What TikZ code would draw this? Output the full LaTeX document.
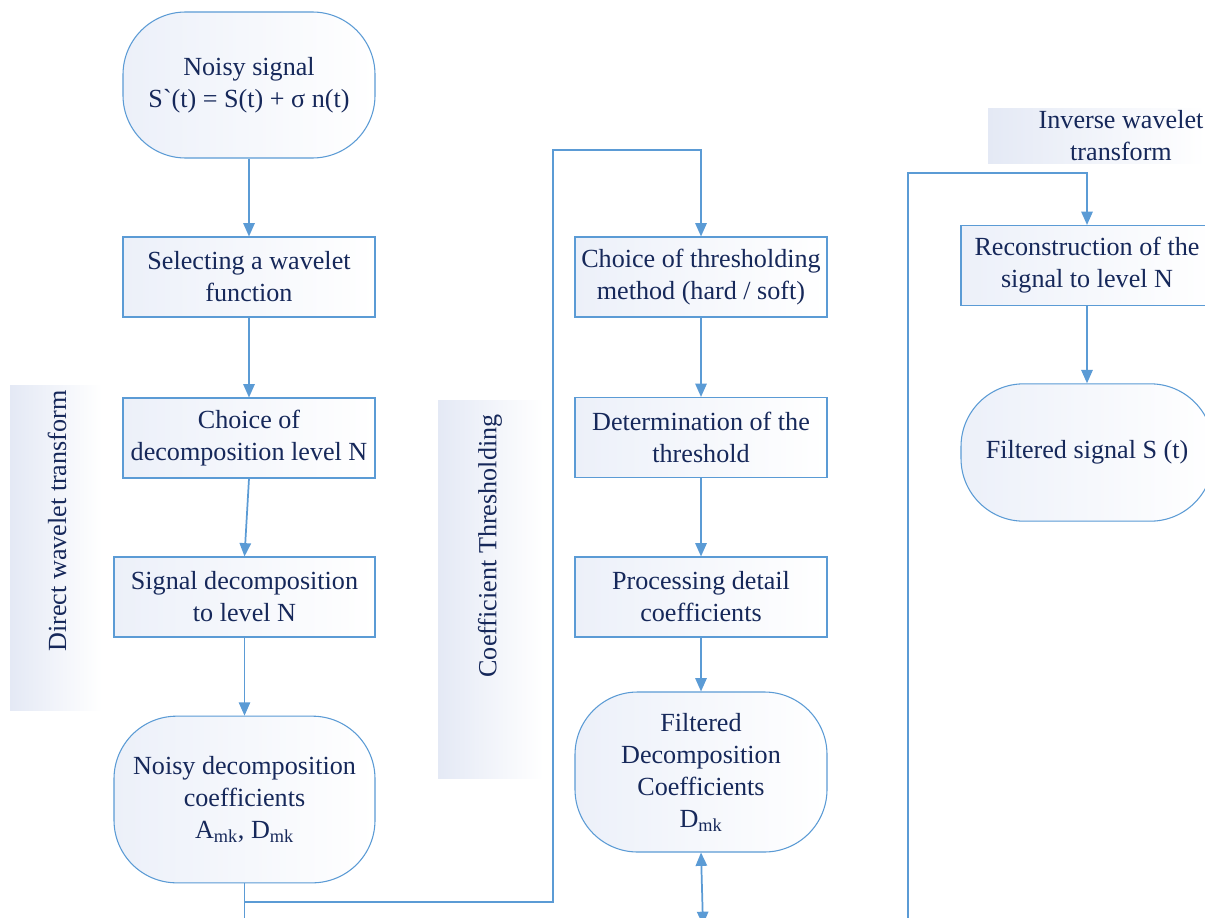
\documentclass[tikz,border=0pt]{standalone}
\usepackage{fontspec}
\setmainfont{Liberation Serif}
\usetikzlibrary{arrows.meta}
\definecolor{lnc}{RGB}{91,155,213}
\definecolor{txc}{RGB}{22,40,90}
\definecolor{nfl}{RGB}{236,240,249}
\definecolor{lbl}{RGB}{228,233,245}
\begin{document}
\begin{tikzpicture}[x=0.75pt,y=-0.75pt,
  every node/.style={font=\fontsize{19.6}{24}\selectfont, text=txc, align=center, inner sep=0pt},
  procbox/.style={draw=lnc, line width=0.8pt, left color=nfl, right color=white,
    minimum width=189pt, minimum height=60pt},
  termbox/.style={procbox, rounded corners=47pt},
  lblbox/.style={left color=lbl, right color=white, draw=none},
  conn/.style={draw=lnc, line width=1.3pt},
  arr/.style={conn, -{Triangle[length=10pt,width=8.5pt]}},
  darr/.style={conn, {Triangle[length=10pt,width=8.5pt]}-{Triangle[length=10pt,width=8.5pt]}}
]
\clip (0,0) rectangle (1205,917);
\fill[white] (0,0) rectangle (1205,917);

% phase labels
\path[lblbox] (10,385) rectangle (102,710);
\node[rotate=90] (lab1) at (57,521) {Direct wavelet transform};
\path[lblbox] (438,400) rectangle (543,778);
\node[rotate=90] (lab2) at (490,546) {Coefficient Thresholding};
\path[lblbox] (988,108) rectangle (1205,163);
\node (lab3) at (1121,136) {Inverse wavelet\\transform};

% column 1
\node[termbox, minimum height=109.5pt] (n1) at (249,85) {Noisy signal\\S\textasciigrave(t) = S(t) + σ n(t)};
\node[procbox] (n2) at (249,277) {Selecting a wavelet\\function};
\node[procbox] (n3) at (249,438) {Choice of\\decomposition level N};
\node[procbox, minimum width=195.75pt] (n4) at (244.5,597) {Signal decomposition\\to level N};
\node[termbox, minimum width=195.75pt, minimum height=125pt] (n5) at (244.5,799.5)
  {Noisy decomposition\\coefficients\\A\textsubscript{mk}, D\textsubscript{mk}};

% column 2
\node[procbox] (n6) at (701,277) {Choice of thresholding\\method (hard / soft)};
\node[procbox] (n7) at (701,437.5) {Determination of the\\threshold};
\node[procbox] (n8) at (701,597) {Processing detail\\coefficients};
\node[termbox, minimum height=120pt] (n9) at (701,772)
  {Filtered\\Decomposition\\Coefficients\\D\textsubscript{mk}};

% column 3
\node[procbox] (n10) at (1087,265.5) {Reconstruction of the\\signal to level N};
\node[termbox, minimum height=103pt] (n11) at (1087,452.5) {Filtered signal S (t)};

% free ends
\coordinate (b1) at (244.5,930);
\coordinate (j1) at (244.5,902);
\coordinate (b2) at (703,925);
\coordinate (b3) at (908,930);

% connectors
\draw[arr] (n1) -- (n2);
\draw[arr] (n2) -- (n3);
\draw[arr] (n3.south) -- (n4.north);
\draw[arr] (n4) -- (n5);
\draw[conn] (n5.south) -- (b1);
\draw[arr] (j1) -| (553,150) -| (n6.north);
\draw[arr] (n6) -- (n7);
\draw[arr] (n7) -- (n8);
\draw[arr] (n8) -- (n9);
\draw[darr] (n9.south) -- (b2);
\draw[arr] (b3) -- (908,173) -| (n10.north);
\draw[arr] (n10) -- (n11);
\end{tikzpicture}
\end{document}
